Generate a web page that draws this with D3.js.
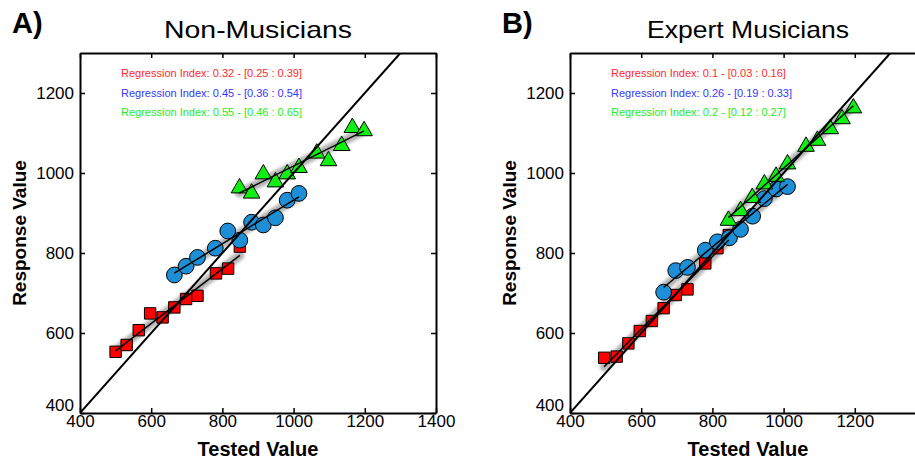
<!DOCTYPE html>
<html>
<head>
<meta charset="utf-8">
<script src="https://cdn.jsdelivr.net/npm/d3@7"></script>
<style>
  body { margin: 0; background: #fff; }
  svg text { font-family: Arial, "Liberation Sans", sans-serif; }
</style>
</head>
<body>
<div id="canvas"></div>
<script>
// tick labels
const xTicks = [400, 600, 800, 1000, 1200, 1400];
const yTicks = [400, 600, 800, 1000, 1200];

// panel A : non-musicians
const nmRedX   = [500, 531, 565, 597, 632, 665, 698, 730, 782, 816, 849];
const nmRedY   = [553, 570, 607, 649, 639, 664, 685, 693, 749, 761, 816];
const nmBlueX  = [665, 698, 730, 780, 815, 849, 882, 915, 949, 982, 1015];
const nmBlueY  = [745, 767, 789, 812, 855, 832, 877, 870, 888, 932, 949];
const nmGreenX = [848, 882, 915, 949, 982, 1015, 1065, 1098, 1135, 1165, 1198];
const nmGreenY = [966, 953, 1001, 981, 1001, 1017, 1053, 1034, 1072, 1117, 1109];
const nmIndex  = ["Regression Index: 0.32 - [0.25 : 0.39]",
                  "Regression Index: 0.45 - [0.36 : 0.54]",
                  "Regression Index: 0.55 - [0.46 : 0.65]"];

// panel B : expert musicians
const exRedX   = [496, 531, 564, 596, 630, 663, 697, 730, 780, 814, 846];
const exRedY   = [538, 541, 574, 605, 630, 662, 695, 709, 774, 812, 845];
const exBlueX  = [663, 697, 730, 780, 814, 848, 879, 913, 946, 979, 1011];
const exBlueY  = [702, 756, 764, 807, 828, 838, 859, 892, 936, 960, 966];
const exGreenX = [845, 879, 912, 946, 979, 1011, 1063, 1095, 1131, 1164, 1196];
const exGreenY = [885, 909, 942, 976, 995, 1026, 1070, 1085, 1114, 1139, 1166];
const exIndex  = ["Regression Index: 0.1 - [0.03 : 0.16]",
                  "Regression Index: 0.26 - [0.19 : 0.33]",
                  "Regression Index: 0.2 - [0.12 : 0.27]"];

const width = 915, height = 462;
const svg = d3.select("#canvas").append("svg")
    .attr("width", width)
    .attr("height", height);

const defs = svg.append("defs");
defs.append("filter").attr("id", "blur")
    .attr("x", "-20%").attr("y", "-20%").attr("width", "140%").attr("height", "140%")
  .append("feGaussianBlur").attr("stdDeviation", 1.8);

const series = [
  { fill: "#ff0000", text: "#ff2a2a", shape: d3.symbolSquare, size: 130 },
  { fill: "#1e8fd6", text: "#3636ff", shape: d3.symbolCircle, size: 195 },
  { fill: "#11ee11", text: "#22ee22", shape: d3.symbolTriangle, size: 120 }
];

function fit(xs, ys) {
  const mx = d3.mean(xs), my = d3.mean(ys);
  const b = d3.sum(xs, (x, i) => (x - mx) * (ys[i] - my)) / d3.sum(xs, x => (x - mx) * (x - mx));
  return x => my + b * (x - mx);
}

function drawPanel(left, letter, title, titleLen, sets, labels, clipId) {
  const x = d3.scaleLinear().domain([400, 1400]).range([left, left + 356]);
  const y = d3.scaleLinear().domain([400, 1300]).range([413, 53]);
  const g = svg.append("g");

  defs.append("clipPath").attr("id", clipId)
    .append("rect").attr("x", x(400)).attr("y", y(1300))
    .attr("width", x(1400) - x(400)).attr("height", y(400) - y(1300));

  const plot = g.append("g").attr("clip-path", `url(#${clipId})`);

  // confidence bands
  sets.forEach(s => {
    const f = fit(s.x, s.y);
    const x0 = d3.min(s.x), x1 = d3.max(s.x);
    plot.append("line")
      .attr("x1", x(x0)).attr("y1", y(f(x0)))
      .attr("x2", x(x1)).attr("y2", y(f(x1)))
      .attr("stroke", "#9a9a9a").attr("stroke-width", 9)
      .attr("stroke-linecap", "round")
      .attr("opacity", 0.75)
      .attr("filter", "url(#blur)");
  });

  // markers
  sets.forEach((s, k) => {
    const st = series[k];
    plot.selectAll(null).data(s.x.map((v, i) => [v, s.y[i]])).enter()
      .append("path")
      .attr("transform", d => `translate(${x(d[0])},${y(d[1]) + (k === 2 ? 1.5 : 0)})`)
      .attr("d", d3.symbol().type(st.shape).size(st.size))
      .attr("fill", st.fill)
      .attr("stroke", "#000")
      .attr("stroke-width", 1);
  });

  // regression lines
  sets.forEach(s => {
    const f = fit(s.x, s.y);
    const x0 = d3.min(s.x), x1 = d3.max(s.x);
    plot.append("line")
      .attr("x1", x(x0)).attr("y1", y(f(x0)))
      .attr("x2", x(x1)).attr("y2", y(f(x1)))
      .attr("stroke", "#000").attr("stroke-width", 1.5);
  });

  // identity line
  plot.append("line")
    .attr("x1", x(400)).attr("y1", y(400))
    .attr("x2", x(1300)).attr("y2", y(1300))
    .attr("stroke", "#000").attr("stroke-width", 2);

  // axes (box with inward ticks); labels that fall off the page are left out
  const xFmt = v => (x(v) + 15 > width ? "" : String(v));
  g.append("g")
    .attr("transform", `translate(0,${y(400)})`)
    .call(d3.axisBottom(x).tickValues(xTicks).tickFormat(xFmt).tickSizeInner(-5).tickSizeOuter(0).tickPadding(2))
    .call(a => a.select(".domain").attr("stroke-width", 2));
  g.append("g")
    .attr("transform", `translate(0,${y(1300)})`)
    .call(d3.axisTop(x).tickValues(xTicks).tickSizeInner(-5).tickSizeOuter(0).tickFormat(""))
    .call(a => a.select(".domain").attr("stroke-width", 2));
  const yAx = g.append("g")
    .attr("transform", `translate(${x(400)},0)`)
    .call(d3.axisLeft(y).tickValues(yTicks).tickFormat(d3.format("d")).tickSizeInner(-5).tickSizeOuter(0).tickPadding(6))
    .call(a => a.select(".domain").attr("stroke-width", 2));
  // lowest y label sits just above the x labels
  yAx.selectAll(".tick text").filter(d => d === 400).attr("dy", "-0.12em");
  g.append("g")
    .attr("transform", `translate(${x(1400)},0)`)
    .call(d3.axisRight(y).tickValues(yTicks).tickSizeInner(-5).tickSizeOuter(0).tickFormat(""))
    .call(a => a.select(".domain").attr("stroke-width", 2));
  g.selectAll(".tick line").attr("stroke-width", 1.5);
  g.selectAll(".tick text").attr("font-size", 17).attr("fill", "#000")
    .attr("font-family", "Arial, 'Liberation Sans', sans-serif");

  // legend text
  labels.forEach((t, k) => {
    g.append("text")
      .attr("x", x(400) + 41).attr("y", 77 + k * 19.5)
      .attr("font-size", 11)
      .attr("fill", series[k].text)
      .text(t);
  });

  // titles and axis labels
  const cx = (x(400) + x(1400)) / 2;
  g.append("text").attr("x", left - 68).attr("y", 33)
    .attr("font-size", 29).attr("font-weight", "bold").text(letter);
  g.append("text").attr("x", cx).attr("y", 38)
    .attr("text-anchor", "middle").attr("font-size", 24)
    .attr("textLength", titleLen).attr("lengthAdjust", "spacingAndGlyphs")
    .text(title);
  g.append("text")
    .attr("x", cx).attr("y", 456)
    .attr("text-anchor", "middle").attr("font-size", 20).attr("font-weight", "bold")
    .text("Tested Value");
  g.append("text")
    .attr("transform", `translate(${left - 54},${(y(400) + y(1300)) / 2}) rotate(-90)`)
    .attr("text-anchor", "middle").attr("font-size", 19).attr("font-weight", "bold")
    .text("Response Value");
}

drawPanel(80, "A)", "Non-Musicians", 188, [
  { x: nmRedX, y: nmRedY },
  { x: nmBlueX, y: nmBlueY },
  { x: nmGreenX, y: nmGreenY }
], nmIndex, "clipA");

drawPanel(570, "B)", "Expert Musicians", 202, [
  { x: exRedX, y: exRedY },
  { x: exBlueX, y: exBlueY },
  { x: exGreenX, y: exGreenY }
], exIndex, "clipB");
</script>
</body>
</html>
